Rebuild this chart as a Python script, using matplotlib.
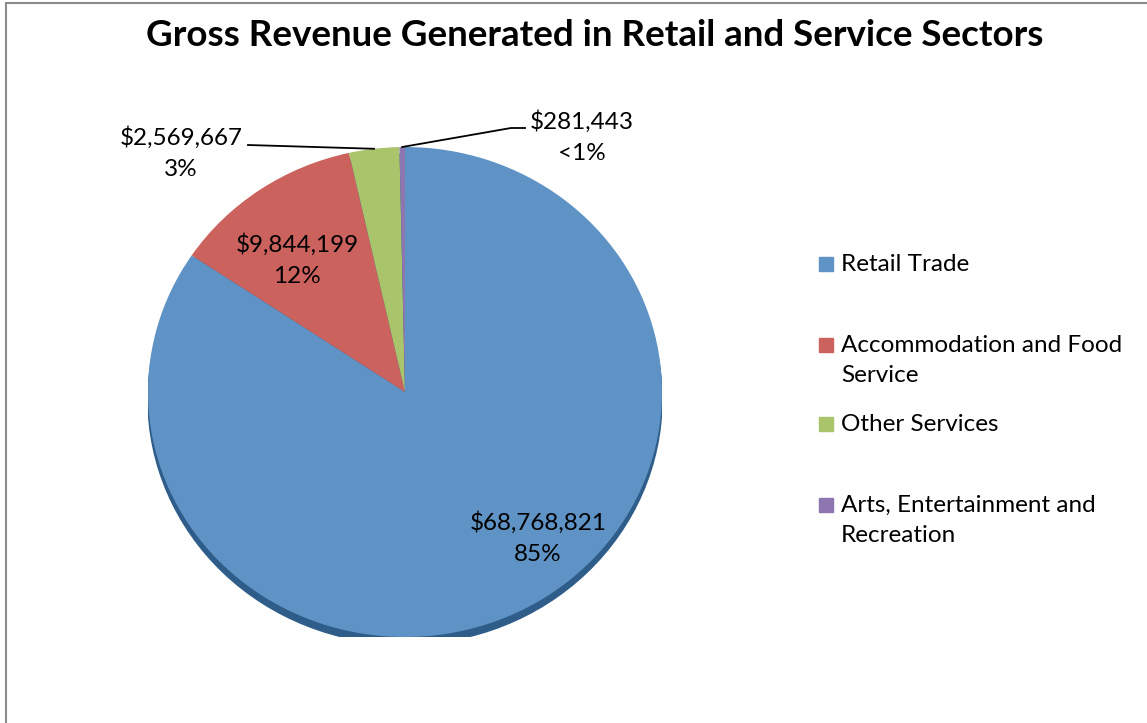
import matplotlib.pyplot as plt
import numpy as np
from matplotlib.patches import Ellipse, Rectangle

# data
sectors = ["Retail Trade", "Accommodation and Food Service",
           "Other Services", "Arts, Entertainment and Recreation"]
legend_labels = ["Retail Trade", "Accommodation and Food\nService",
                 "Other Services", "Arts, Entertainment and\nRecreation"]
revenue = [68768821, 9844199, 2569667, 281443]
pct_labels = ["85%", "12%", "3%", "<1%"]

colors = ["#5f93c6", "#cc625e", "#a9c46a", "#8e77b0"]
shadow_color = "#2f5d8a"
font = "Lato"

W, H = 1147, 723
fig = plt.figure(figsize=(W / 100, H / 100), dpi=100)

# outer frame (left + top visible)
fig.add_artist(Rectangle((6 / W, -0.1), 1.2, 1.1 - 3 / H, transform=fig.transFigure,
                         fill=False, edgecolor="#8c8c8c", linewidth=1.5))

fig.text(595 / W, 1 - 35 / H, "Gross Revenue Generated in Retail and Service Sectors",
         ha="center", va="center", fontsize=26.5, fontweight="bold", family=font)

# pie axes (slightly squashed, like the Excel 3-D look)
cx, cy, rx, ry = 405, 392, 257, 245
ax = fig.add_axes([(cx - rx) / W, 1 - (cy + ry) / H, 2 * rx / W, 2 * ry / H])
wedges, _ = ax.pie(revenue, colors=colors, startangle=90, counterclock=False,
                   wedgeprops=dict(linewidth=0))
ax.add_patch(Ellipse((0, -0.03), 2.0, 2.0, color=shadow_color, zorder=0))
ax.set_aspect("auto")
ax.set_xlim(-1, 1)
ax.set_ylim(-1, 1)
ax.axis("off")

# data labels
def to_ax(px, py):
    return (px - cx) / rx, (cy - py) / ry

label_pos = [to_ax(538, 538), to_ax(297, 260), to_ax(181, 153), to_ax(582, 137)]
for i, (v, p) in enumerate(zip(revenue, pct_labels)):
    lx, ly = label_pos[i]
    ax.text(lx, ly, f"${v:,}\n{p}", ha="center", va="center", fontsize=17.5,
            family=font, linespacing=1.6, clip_on=False)

# leader lines for the two small slices
leader_start = {2: [to_ax(248, 145)], 3: [to_ax(525, 128), to_ax(511, 128)]}
for i, pts in leader_start.items():
    w = wedges[i]
    mid = np.deg2rad((w.theta1 + w.theta2) / 2)
    xs = [p[0] for p in pts] + [np.cos(mid)]
    ys = [p[1] for p in pts] + [np.sin(mid)]
    ax.plot(xs, ys, color="black", linewidth=1.3, clip_on=False)

# legend
leg_y = [264, 345, 424, 505]
for lab, c, y in zip(legend_labels, colors, leg_y):
    fig.add_artist(Rectangle((819 / W, 1 - (y + 7) / H), 14 / W, 14 / H,
                             transform=fig.transFigure, color=c))
    fig.text(841 / W, 1 - (y - 10) / H, lab, ha="left", va="top", fontsize=17.5,
             family=font, linespacing=1.55)

fig.savefig("out.png", dpi=100)
